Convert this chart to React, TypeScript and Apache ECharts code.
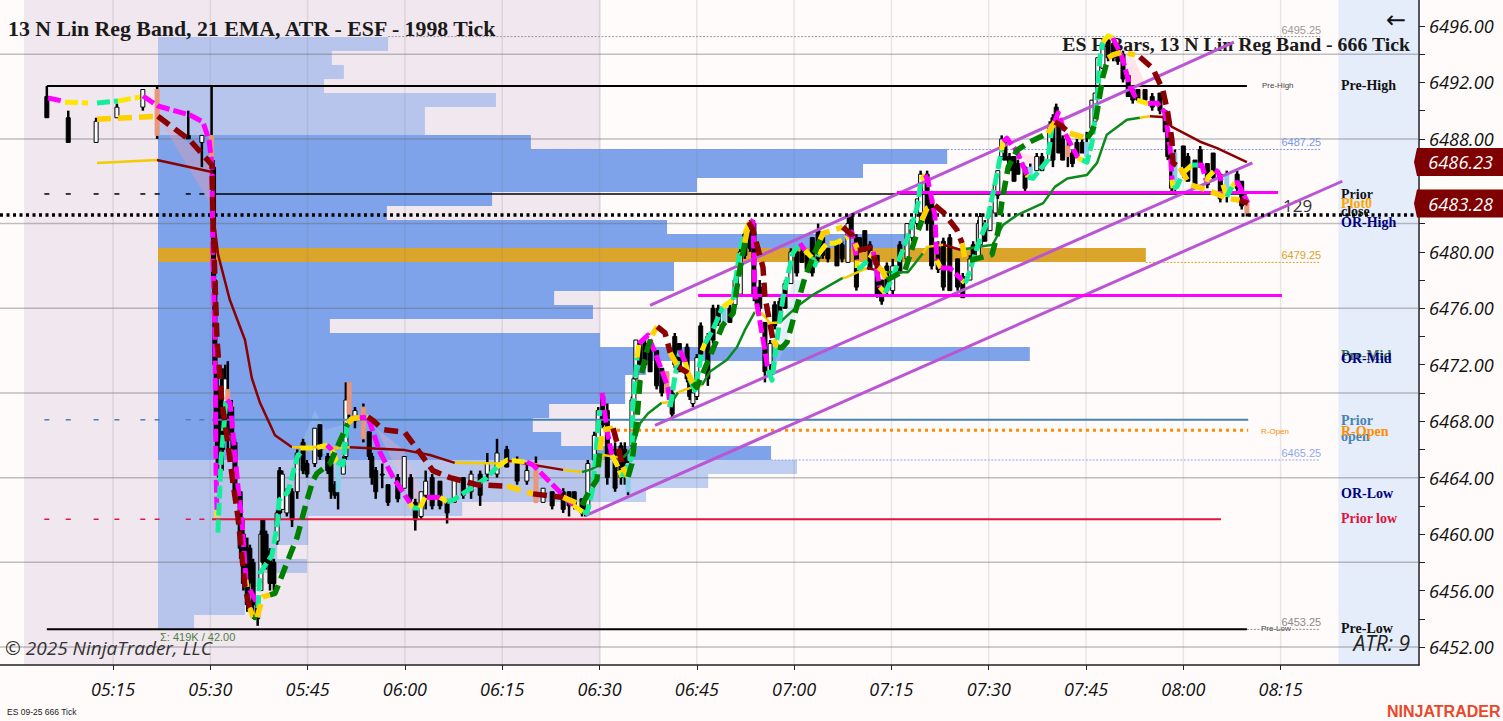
import React, { useEffect, useRef } from "react";
import * as echarts from "echarts";

// time axis: minutes after 05:00
const timeTicks = [15, 30, 45, 60, 75, 90, 105, 120, 135, 150, 165, 180, 195];
const priceLabels = [6452, 6456, 6460, 6464, 6468, 6472, 6476, 6480, 6488, 6492, 6496];
const priceTicks = [6452, 6454, 6456, 6458, 6460, 6462, 6464, 6466, 6468, 6470, 6472, 6474, 6476, 6478, 6480, 6482, 6484, 6486, 6488, 6490, 6492, 6494, 6496];
const gridPrices = [6452, 6458, 6464, 6470, 6476, 6482, 6488, 6494];

// t, open, close, low, high, flag (s = salmon, b = blue)
const candles: any[][] = [
[4.8,6491,6489.5,6489.5,6491.75],[8.1,6489.5,6487.75,6487.75,6490],[12.4,6487.75,6489.25,6487.75,6489.5],[15.6,6489.5,6490.25,6489.5,6490.5],
[19.6,6490.25,6491.5,6490,6491.5],[21.8,6491.5,6488.25,6488,6491.75,"s"],[26.6,6488.25,6488,6488,6490],[28.7,6487.75,6488.25,6486,6488.25],
[30.2,6488.25,6486,6485.5,6491.75,"s"],[30.5,6486,6478,6477.5,6486.5],[30.7,6478,6472,6471.5,6478.5],[30.9,6472,6467,6466,6472.5],
[31.2,6470,6465,6464,6470.5],[31.9,6471,6466,6464.5,6471.75],[32.3,6468,6471,6466.75,6472],[32.7,6470.25,6469,6466,6472.25,"s"],
[33.3,6469,6467,6466,6469.5],[33.8,6466.5,6463,6462.5,6466.75],[34.6,6463,6459,6458.25,6463],[35.1,6460,6456.5,6456,6461],
[35.7,6459,6455,6454.5,6459.75],[36.1,6459,6456.75,6456.5,6459.25],[36.6,6458,6455,6454,6458.25],[37.3,6455,6454,6453.5,6455.5],
[37.8,6456,6460,6456,6460.25],[38.1,6461,6458,6457.75,6461],[38.6,6460,6457.75,6457.5,6460.25],[39.2,6458.75,6456.5,6456,6459],
[39.8,6458,6456.5,6456,6458.25],[40.3,6459.5,6461.5,6459.25,6461.75],[40.7,6464.5,6461.5,6461,6464.75],[41.1,6461.75,6464.25,6461.75,6464.5],
[41.8,6461.5,6463,6461.25,6463.25],[42.6,6463,6461,6460.5,6463.25],[43.4,6463,6465.75,6462.5,6466],[44.3,6466.5,6464.5,6464.25,6466.75],
[44.9,6465,6464.25,6464,6465.25],[46.1,6465,6467.5,6464.75,6467.5],[46.9,6467.75,6465.5,6465.25,6467.75],[48.1,6465.5,6464.5,6464.25,6465.75],
[48.6,6465,6463,6462.5,6465.25],[49.2,6463.5,6462.75,6462.5,6463.75],[49.7,6465,6463,6461.75,6465.25,"b"],[50.5,6464.25,6465.25,6464.25,6465.5],
[50.9,6465.5,6469.5,6465.25,6470.75],[51.4,6470.75,6468.5,6468.25,6470.75,"s"],[52.3,6468,6468.75,6467.5,6469],[53.6,6469,6466.75,6466.5,6469.25,"s"],
[54.5,6467.25,6465.5,6465.25,6467.25],[54.9,6465.5,6464,6463.5,6465.75],[55.5,6464.5,6463,6462.5,6464.75],[56.5,6464.25,6464.25,6463.25,6465],
[57.4,6463.5,6462.25,6462,6463.5],[58.9,6464,6462.5,6462.25,6464.25],[59.9,6463.25,6465.5,6463.25,6465.5],[60.9,6464,6462.5,6462.25,6464.25],
[61.6,6462.25,6461,6460.25,6462.5],[62.5,6461.25,6463,6461,6463],[63.2,6462.75,6463.75,6461.75,6464.5],[64.2,6464,6462,6461.75,6464.25],
[65.4,6463.75,6462,6461.75,6463.75],[66.5,6462.25,6461.5,6460.75,6462.5],[67.6,6462.25,6464,6462.25,6464],[69,6464,6462.75,6462.5,6464],
[70.2,6463,6464.25,6462.5,6464.5],[71.6,6464.25,6462.75,6462,6464.5],[72.7,6464.25,6465,6463.75,6465.75],[74.2,6464.25,6465.75,6464,6466.75],
[75.7,6466,6464.75,6464.75,6466.25],[77.3,6465.25,6463.75,6463.5,6465.5],[78.8,6463.75,6464.5,6463.5,6465],[80.2,6465,6462.25,6462.25,6465.5,"s"],
[81.3,6462.25,6463.25,6462.25,6463.25],[82.7,6463,6462,6461.75,6463],[84.4,6463,6461.75,6461.5,6463.25],[85.3,6463,6462,6461.25,6463],
[86.1,6463,6462,6461.75,6463],[87.3,6462.5,6461.5,6461.25,6462.5],[87.8,6462,6461.5,6461.25,6462],[88.2,6461.75,6465,6461.5,6465.25],
[89.2,6465.25,6467,6465,6467.25],[89.8,6466,6468.75,6466,6469],[90.5,6469.75,6467.75,6467.5,6470],[91.2,6468.75,6464,6463.5,6469.25],
[92.4,6466,6463.25,6463,6466.5],[93.3,6466.25,6464,6463.5,6466.5],[93.9,6466,6464,6463.5,6466.5],[94.4,6465,6463,6462.75,6465.25,"b"],
[95,6466.25,6469.5,6466.25,6469.75],[95.3,6469.5,6471,6469.5,6471.25],[95.6,6471,6473.75,6471,6473.75],[96.2,6473.5,6472,6472,6473.5],
[97,6473.5,6472,6471.75,6473.75],[97.8,6473.25,6471.5,6471.5,6473.25],[98.8,6473,6470.5,6470.25,6473],[99.6,6471.75,6470,6469.75,6471.75],
[100.4,6471.5,6470,6470,6471.5,"s"],[101.2,6470,6468.5,6468.25,6470.25],[101.6,6474,6472,6471.75,6474.25],[102.3,6473.5,6471.5,6471.5,6473.5],
[103.5,6473.25,6471,6470.75,6473.5],[103.9,6471,6469.75,6469.5,6471],[104.4,6469.25,6470,6469,6470],[105,6469.75,6472.5,6469.5,6472.75],
[105.6,6474.75,6472.75,6472.5,6475],[106.7,6474,6471,6470.5,6474.25],[107.5,6476,6473.75,6473.5,6476.25],[108.3,6476,6475,6474.75,6476.25],
[109.2,6475,6476,6475,6476,"b"],[110.1,6476,6475,6475,6476.25],[110.9,6476.25,6478,6476.25,6478.25],[111.7,6477,6480,6477,6480.25],
[112.4,6481.25,6479.75,6479.5,6481.5],[113.2,6482,6480.25,6480,6482.25],[113.8,6482,6477,6476.5,6482.25],[114.3,6477,6476.25,6476,6477.25],
[114.7,6477.5,6476,6475.75,6478],[115.5,6475,6471.5,6470.75,6475],[116.3,6472,6473.5,6471.25,6473.75],[117,6476.25,6474.75,6474.5,6476.5],
[117.8,6476.5,6475,6475,6476.75],[118.6,6477.75,6476,6476,6478],[119.5,6477.75,6480,6477.75,6480.25],[120.4,6480,6478.5,6478.25,6480.25],
[121.2,6480,6479.25,6479.25,6480.25],[122,6479.75,6478.75,6478.75,6479.75],[122.8,6481,6478.5,6478.25,6481],[123.7,6481.5,6479.5,6479.25,6482],
[124.4,6481,6479.75,6479.5,6481],[125.2,6480.25,6479.5,6479.25,6480.25],[126.6,6480.5,6479,6479,6480.75],[127.4,6480.5,6479.5,6479.25,6480.75],
[128.3,6479.25,6482,6479.25,6482.5],[128.8,6482.5,6481,6481,6482.5],[129.6,6481,6477.5,6477.25,6481.25],[130.1,6481,6480,6480,6481],
[130.9,6481.5,6480.25,6480,6481.5],[131.7,6480.5,6478.75,6478.75,6480.75],[132.8,6479.75,6477,6476.75,6479.75],[133.5,6478,6476.5,6476.25,6478],
[134.3,6479,6477.25,6477,6479.25],[135.2,6477.25,6479,6477,6479.5],[136.3,6480.5,6478.5,6478.5,6480.75],[137.4,6479.5,6482,6479.25,6482],
[138.2,6481,6482.25,6480.75,6482.25],[139,6482,6483.75,6481.75,6483.75],[139.5,6482.75,6485.5,6482.5,6485.75],[140.5,6485.5,6482,6481.5,6485.75],
[141.2,6483.75,6479,6478.75,6484],[142.2,6480.5,6478.75,6478.5,6480.75],[143,6480.75,6477.5,6477.25,6481],[144,6481,6477.25,6477.25,6481.25],
[145.2,6479.5,6477.5,6477.25,6479.5],[146,6478.25,6476.75,6476.75,6478.5],[147.1,6478,6479.5,6478,6479.75],[147.6,6480.5,6479.5,6479.5,6480.75],
[148.4,6479.5,6482,6479.5,6482.25],[148.7,6480.5,6482.5,6480.5,6482.75],[149.4,6482,6480.75,6480.75,6482.25],[150.2,6481.5,6483,6481.5,6483.25],
[151,6482.75,6484.75,6482.75,6485],[151.4,6484,6485.75,6483.75,6485.75],[152,6486.75,6488,6486.5,6488.25],[152.5,6487.75,6486.5,6486.5,6488],
[153.2,6486.75,6485.75,6485.75,6487],[153.9,6486.75,6485,6485,6486.75],[154.5,6486.25,6485.5,6485.5,6486.5],[155.6,6486,6484.5,6484.25,6486],
[156.4,6485.25,6486,6485.25,6486.25,"b"],[157.4,6485.75,6486.75,6485.75,6487],[158.2,6486.75,6485.75,6485.75,6487],[159.4,6486.5,6489,6486.5,6489.25],
[159.9,6489.5,6486.5,6486,6489.75],[160.4,6490.25,6489.25,6489,6490.5],[160.8,6489,6487,6487,6489.25],[161.4,6488,6486.5,6486.5,6488.25],
[162.2,6487.5,6486.75,6486,6488,"s"],[162.9,6487,6486.25,6486,6487.25],[163.6,6487.75,6486.75,6486.75,6488],[164.4,6487.75,6487,6487,6488],
[165.1,6486.75,6487.75,6486.75,6488.5,"b"],[165.9,6488.75,6490.75,6488.5,6490.75],[166.4,6489.25,6491.25,6489,6491.25],[166.8,6491.25,6493.75,6491.25,6493.75],
[167.6,6493,6494.75,6493,6494.75],[168.4,6495,6493.75,6493.5,6495.25],[169.2,6494.75,6493.75,6493.5,6494.75],[169.9,6494.5,6493.5,6493.25,6494.5],
[170.7,6494,6492.25,6492,6494.25],[171.5,6492.5,6491,6491,6492.5],[172.2,6491.5,6490.75,6490.5,6491.75],[173,6491.5,6490.75,6490.75,6491.5],
[174.1,6491.5,6490.75,6490.5,6491.5],[175.2,6491,6490.25,6490,6491.25],[176.4,6491.25,6490,6489.75,6491.25],[177.2,6490,6488.5,6488.5,6490],
[177.6,6488.5,6486.75,6486.5,6488.5],[178.2,6487,6484.5,6484.25,6487],[178.7,6484.75,6487,6484.25,6487.25,"b"],[180,6487.5,6485.5,6485.25,6487.5],
[180.7,6486.75,6485,6485,6487],[181.8,6486.5,6484.75,6484.5,6486.5],[182.6,6487.25,6486,6486,6487.5],[183.7,6486.25,6484.75,6484.5,6486.25],
[184.6,6487,6485.25,6485,6487],[185.7,6485.5,6483.75,6483.5,6485.5],[186.7,6484,6485.5,6483.5,6485.75,"b"],[188.3,6485.5,6484.5,6484.25,6485.75],
[189,6485,6483.25,6483,6485],[189.8,6483.5,6482.75,6482.5,6483.75,"s"],
];

// colour key, then t, price pairs
const fastBand: any[][] = [
["m",4.98,6490.9,7.14,6490.69],["y",7.6,6490.6,11.15,6490.55],["g",12.53,6490.55,15.77,6490.69],["y",15.77,6490.69,19.16,6490.97],
["m",19.62,6491.04,21.92,6490.33,26.87,6489.69,28.87,6489.2,29.8,6487.92,30.26,6486.15,30.41,6479.42,30.72,6473.75,30.88,6464.54,31.03,6461.7],
["y",31.03,6461.7,31.03,6461.2],["g",31.18,6460.1,31.65,6465.25,32.42,6469.5],
["m",32.57,6469.5,33.04,6469.3,34.27,6463.35,34.9,6460.8,35.5,6456.75],["y",35.5,6456.75,35.65,6456.25],["m",36.1,6456.04,37.2,6455.12],
["g",37.35,6454.76,37.66,6457.24,39.5,6458.5,40.43,6461,40.6,6462.4,41.97,6463,43.4,6465.46,43.86,6465.74],
["y",43.86,6466.1,46.14,6466.1,47.99,6466.3],["m",47.99,6466.3,48.76,6465.96],["y",48.76,6465.96,49.53,6465.1],
["g",49.53,6465.1,50.46,6464.9,51.07,6467.6,51.5,6468.1],["y",51.5,6468.1,52,6468.2],
["m",52,6468.2,54.3,6468.3,56.16,6465.8,58.2,6464,60.8,6462.2],["y",60.8,6462.2,61.24,6461.85],["g",61.24,6461.85,62.3,6461.85],
["y",62.3,6461.85,63.1,6462.6],["m",63.4,6462.6,65.4,6462.6],["y",65.4,6462.6,66.5,6462.3],
["g",66.5,6462.3,67.4,6462.4,72.65,6464,74.2,6464.75],["y",74.2,6464.75,75.75,6465.25,78.8,6465.1],
["m",78.8,6465.1,79.75,6464.9,85.9,6462.06],["y",85.9,6462.06,87.45,6461.57],
["g",87.45,6461.57,88.07,6461.5,89,6463.3,89.6,6466.67,90.07,6468.8],["m",90.38,6470,91.15,6467.4,91.9,6465.6],
["y",91.9,6465.6,92.7,6464.9,93.46,6464.05],["g",93.46,6464.05,95,6465.46,95.15,6469,95.8,6472.5],["y",95.8,6472.5,96.08,6473.5],
["m",96.08,6473.5,97.47,6474.1,98.86,6472.5,100.56,6470.4,100.9,6469],["g",100.9,6469,101.6,6471.1,102.4,6473],["m",102.4,6473,103.2,6472.2],
["y",103.2,6472.2,103.97,6470.9],["g",103.97,6470.9,104.7,6470.2,105.8,6473],["y",105.8,6473,106.25,6473.5],
["g",106.25,6473.5,107.5,6474.5,109,6476.1],["y",109,6476.1,110.57,6476.6],["g",110.57,6476.6,111.65,6480.1,112.4,6481.3],["y",112.4,6481.3,113.2,6482.25],
["m",113.2,6482.25,113.66,6482.1,113.96,6477.1,115.5,6473,115.97,6471.6],["g",115.97,6471.6,116.6,6470.9,117.35,6473.75,118.3,6476.8,119.8,6479.9,120.9,6480.6],
["m",120.9,6480.6,121.67,6480.1],["y",121.67,6480.1,122.75,6479.6],["g",122.75,6479.6,123.2,6479.06,123.7,6479.8],["y",123.7,6479.8,125.06,6480.6,126.3,6480.6,128.3,6481.05],
["m",128.3,6481.05,128.9,6481.4,129.7,6479.4],["y",129.7,6479.4,129.7,6478.85],["g",129.7,6478.85,130.2,6478.85,131.7,6479.56],["y",131.7,6479.56,132.2,6480],
["m",132.2,6480,132.8,6478.5,133.2,6477.5],["y",133.2,6477.5,134,6477.1],["g",134,6477.1,135.2,6478.2,136.3,6479.6,137.9,6481.5,139.1,6483.4,139.55,6485.1],
["y",139.55,6485.1,140.2,6485.45],["m",140.2,6485.45,140.6,6485.1,141.7,6482.6,142,6479.4],["y",142,6479.4,142.6,6478.85],["m",142.6,6478.85,144,6478.85,145.9,6478],
["y",145.9,6478,146.3,6477.8],["g",146.3,6477.8,146.6,6478,148.6,6480.85,149.7,6482.05,151,6484.9,152,6487.2],["y",152,6487.2,152.2,6487.8],
["m",152.2,6487.8,152.8,6488.05,154.35,6487.1,155.9,6485.45],["y",155.9,6485.45,156.05,6485.3],["g",156.05,6485.3,156.8,6485.2,159.1,6486.5,159.75,6488.85],
["y",159.75,6488.85,160.05,6489.1],["m",160.05,6489.1,160.7,6489.85,161.75,6488.4,163.75,6486.65],["y",163.75,6486.65,164.4,6486.5],
["g",164.4,6486.5,165.15,6486.35,165.9,6487.7,166.7,6490.75,167.15,6493.8,167.6,6494.85],["y",167.6,6494.85,168.4,6495.3,169.15,6495.15],
["m",169.15,6495.15,170.55,6493.8,171.8,6491.7,172.85,6490.75],["y",172.85,6490.75,174.55,6490.5],
["m",174.55,6490.5,175.95,6490.55,177.2,6489.85,177.5,6488.85,177.95,6487.45,178.25,6485.1],["y",178.25,6485.1,178.4,6484.5],
["g",178.4,6484.5,179,6484.6,179.95,6485.6],["y",179.95,6485.6,181.3,6486.15],["g",181.3,6486.15,182.25,6486.15],["m",182.25,6486.15,182.85,6486.15,183.6,6484.95],
["y",183.6,6484.95,183.8,6485.3,184.9,6485.8],["m",184.9,6485.8,185.35,6485.65,186.1,6484.75],["y",186.1,6484.75,186.7,6483.9],["g",186.7,6483.9,187.5,6484.6],
["y",187.5,6484.6,187.95,6484.9],["m",187.95,6484.9,188.4,6484.9,189.95,6483.45],
];

const slowBand: any[][] = [
["y",12.53,6489.4,21.92,6489.6],
["r",21.92,6489.6,26.87,6487.9,30.26,6486.15,30.41,6482.25,31.03,6473.75,31.8,6469.3,32.7,6466.45,33.5,6463.6,34.27,6461.2,35.35,6456.25,35.8,6455.3,36.1,6454.75],
["y",36.1,6454.75,36.6,6454.1],["g",36.6,6454.1,37.2,6454.1],["y",37.2,6454.1,38.1,6455.55,39.2,6455.7],
["g",39.2,6455.7,39.97,6455.8,41.2,6457.25,43.4,6459.8,44.9,6462.4,45.83,6463.8,46.45,6464.3,48.45,6465,51.2,6467.85],
["y",51.2,6467.85,52,6468.2,54.3,6468.3],["r",54.3,6468.3,55.1,6468.05,56.6,6467.4,60,6467.2,62.8,6465.45,64.3,6464.5,66.95,6464,71.1,6463.5,75.75,6463.4],
["y",75.75,6463.4,79.75,6462.85],["r",79.75,6462.85,84.4,6462.6],["y",84.4,6462.6,87.3,6462.05],["g",87.3,6462.05,88.5,6463.1,89.6,6463.85,90.07,6465.95],
["y",90.07,6465.95,90.5,6467.4,92.1,6467.5],["r",92.1,6467.5,92.85,6466.2,93.6,6464.75],["y",93.6,6464.75,94.4,6464.05],
["g",94.4,6464.05,95,6465,95.8,6468.3,96.25,6470.9,97.3,6473,98.1,6474.1],["y",98.1,6474.1,98.9,6474.7],["r",98.9,6474.7,100.1,6474.25,100.9,6472.85],
["y",100.9,6472.85,102.1,6471.85],["r",102.1,6471.85,103.65,6471.4],["y",103.65,6471.4,104.4,6470.7],
["g",104.4,6470.7,105,6470.4,107,6472.55,109,6474.8,110.6,6475.65,111.35,6478,112.4,6480.65],["y",112.4,6480.65,113,6482.1],
["r",113,6482.1,113.66,6481.55,115.2,6478.9,115.5,6476.8,115.97,6475.65,116.75,6473.75],["y",116.75,6473.75,117.5,6473.25],
["g",117.5,6473.25,118.1,6473.2,118.9,6473.6,120.4,6476.1,121.67,6478.2,122.9,6479.6,124,6480.85],["y",124,6480.85,124.45,6481.3,127.5,6481.75],
["r",127.5,6481.75,128.9,6481.2,129.4,6480.6],["y",129.4,6480.6,129.85,6480.1],["r",129.85,6480.1,131.7,6480.3,132.95,6478.9],["y",132.95,6478.9,133.55,6478.7,134.3,6478],
["g",134.3,6478,137.1,6478.7,138.6,6480.85,139.7,6482.25],["y",139.7,6482.25,140.5,6483.1,141.7,6483.3],["r",141.7,6483.3,143,6482.8,145.1,6481.55,145.9,6480.6],
["y",145.9,6480.6,146.3,6479.6,147.1,6479.4],["g",147.1,6479.4,150.5,6479.8,151.4,6481.35,152,6483.45,153,6486,154.35,6487.2,156.4,6487.8,159.1,6488.4],
["y",159.1,6488.4,160.2,6489.2],["r",160.2,6489.2,161,6489,162.5,6488.4],["y",162.5,6488.4,165.15,6488.05],
["g",165.15,6488.05,165.9,6488.5,166.4,6489.1,167.6,6492.4,168.4,6493.75],["y",168.4,6493.75,169.15,6493.95,170.55,6494.15,172.55,6493.95],
["r",173.3,6493.8,175.3,6493,176.85,6491.45,177.6,6489.85,178.25,6487.9,178.4,6486.3,179.5,6485.95],
["y",179.5,6485.95,181,6484.75,183.6,6484.4,186.7,6483.8,188.7,6483.65],["r",188.7,6483.65,189.95,6483.45],
];

const ema21: any[][] = [
["y",12.53,6486.3,21.78,6486.5],
["r",21.78,6486.5,30.26,6485.65,30.4,6485.25,30.55,6482.25,31.2,6479.8,33,6476.6,35.35,6473.75,36.4,6471.05,37.66,6469.3,39.97,6467,42.6,6466.15],
["y",42.6,6466.15,46.14,6466.15,49.53,6466.1,51.5,6466.15],["r",51.5,6466.15,60,6465.95,63.85,6465.6,67.7,6465.05],["y",67.7,6465.05,74.65,6465,75.75,6465.2],
["r",75.75,6465.2,84.4,6464.55],["y",84.4,6464.55,87.3,6464.4],["g",87.3,6464.4,88.5,6464.55,90.07,6464.9],["y",90.07,6464.9,90.5,6465.6,93.6,6465.4],
["g",93.6,6465.4,95.15,6466.15,96.25,6467.85,97.47,6468.55,99.6,6469.3],["y",99.6,6469.3,101.2,6469.35],["g",101.2,6469.35,102.1,6470.05],
["y",102.1,6470.05,104.25,6470.4,105.8,6470.55],["g",105.8,6470.55,107,6471.5,109.65,6472.35,111.2,6473.25,112.4,6474.45,113.96,6475.75],
["y",113.96,6475.75,115,6475.65,116.3,6474.95,117.8,6475],["g",117.8,6475,120.4,6476.1,122.9,6476.95,127.5,6478.15],["y",127.5,6478.15,128.1,6478.2,131.2,6478.85],
["r",131.2,6478.85,133.25,6478.65],["y",133.25,6478.65,134.3,6478.55],["g",134.3,6478.55,137.55,6478.55,139.85,6479.9],["y",139.85,6479.9,140.5,6480.35,143,6480.5],
["r",143,6480.5,145.6,6480.15],["g",145.6,6480.15,150.6,6480.5,152.2,6481.9,154.35,6482.6,158.4,6483.45,160.2,6484.6,162.1,6485.2,165.15,6485.45,166.7,6486.3,168.2,6488.3,171.3,6489.35,173.3,6489.5],
["y",173.3,6489.5,174.85,6489.6],["r",174.85,6489.6,176.85,6489.55,178.25,6488.85,182.6,6487.8,185.2,6487.35,189.8,6486.35],
];

// regression channel lines: t, price, t, price
const channelLines = [
  [97.8, 6476.2, 187.8, 6494.85],
  [98.55, 6467.7, 190.65, 6486.3],
  [87.8, 6461.3, 204.5, 6485],
];

// volume profile: thousands of contracts per 1-point row, top row first, from 6495.25 down
const profileVolumes = [5.93,4.48,4.79,4.28,8.71,6.88,6.88,9.61,20.34,18.17,13.89,8.61,5.9,13.12,19.25,25.46,13.3,13.3,10.21,11.21,4.43,11.39,22.47,12.58,12.04,12.04,10.08,9.66,10.39,15.8,16.47,14.18,12.58,7.84,3.87,3.87,3.07,3.84,2.63,2.37,2.24,0.93];
const profileTop = 6495.25;
const valueAreaRows = [7, 29];
const pocRow = 15;

// profile price levels: first t, price
const profileLevels: [number, number, string][] = [
  [57.4, 6495.25, "#9a9a9a"],
  [79.4, 6487.25, "#7a9ae8"],
  [174.2, 6479.25, "#d9a22a"],
  [116.4, 6465.25, "#8fa8ec"],
  [189.8, 6453.25, "#8a8a8a"],
];

const preHigh = 6491.75, preLow = 6453.25, priorClose = 6484.1, priorOpen = 6468.1, priorLow = 6461.05, rOpen = 6467.35, dotted = 6482.6;
const supportLevel = 6476.9, resistanceLevel = 6484.2;
const priceTags = [6486.23, 6483.28];

const sessions: [number, number, string][] = [
  [1.28, 90.2, "#F1E7EF"],
  [203.9, 216.33, "#E5EDFA"],
];

const clouds: any[] = [
  ["#ff9aa8", 21.9,6489.6, 30.26,6486.2, 30.26,6483.2],
  ["#ffb6c1", 55.55,6467.5, 59.85,6465.95, 62.3,6463.1, 68.5,6462.2, 61.55,6462.05],
  ["#a8d4f5", 43.85,6466.2, 46.15,6468.8, 47.7,6467.4, 50.45,6467.75, 50.75,6465.25],
  ["#a8d4f5", 116.75,6471.4, 119.8,6478, 121.2,6478, 118.9,6473.55],
  ["#a8d4f5", 149.4,6481.9, 151.75,6486.5, 151.75,6483, 147.9,6479.4],
  ["#ffb6c1", 169.45,6494.3, 172.55,6493.6, 174.55,6491.45, 172.55,6490.75],
  ["#ffb6c1", 154.05,6487.2, 158.2,6486.5, 157.15,6485.8],
];

const T_MIN = -2.42, T_MAX = 216.33, P_MIN = 6450.725, P_MAX = 6497.842;
const VOL_MAX = 32.5;

const fastColors: any = { m: "#FF00FF", y: "#FFE600", g: "#14EE9B" };
const slowColors: any = { r: "#8B0000", y: "#FFD000", g: "#008000" };
const emaColors: any = { r: "#8B0000", y: "#F0CC00", g: "#0B8A1E" };

const clock = (t: number) => {
  const m = Math.round(300 + t);
  return `${String(Math.floor(m / 60)).padStart(2, "0")}:${String(m % 60).padStart(2, "0")}`;
};

const pairs = (flat: any[]) => {
  const out: number[][] = [];
  for (let i = 0; i + 1 < flat.length; i += 2) out.push([flat[i], flat[i + 1]]);
  return out;
};

const runSeries = (name: string, runs: any[][], colors: any, width: number, dash: any, z: number) =>
  runs.map((r) => ({
    name,
    type: "line",
    z,
    silent: true,
    symbol: "none",
    smooth: false,
    clip: false,
    data: pairs(r.slice(1)),
    lineStyle: { color: colors[r[0]], width, type: dash, cap: "butt", join: "round" },
  }));

const level = (name: string, t0: number, t1: number, p: number, color: string, width: number, type: any, z = 5) => ({
  name,
  type: "line",
  z,
  silent: true,
  symbol: "none",
  data: [[t0, p], [t1, p]],
  lineStyle: { color, width, type },
});

const leftDashTimes = candles.slice(0, 8).map((c) => c[0]);
const dashes = (name: string, p: number, color: string) => ({
  name,
  type: "custom",
  z: 5,
  silent: true,
  data: leftDashTimes.map((t) => [t, p]),
  renderItem: (_: any, api: any) => {
    const c = api.coord([api.value(0), api.value(1)]);
    return { type: "line", shape: { x1: c[0] - 2.5, y1: c[1], x2: c[0] + 2.5, y2: c[1] }, style: { stroke: color, lineWidth: 1.5 } };
  },
});

const serif = '"Liberation Serif", serif';
const sans = '"Open Sans", sans-serif';
const label = (text: string, x: number, y: number, fill: string, font: string, extra: any = {}, z = 4) => ({
  type: "text",
  x,
  y,
  z,
  silent: true,
  style: { text, fill, font, align: "left", verticalAlign: "middle", textAlign: "left", textVerticalAlign: "middle", ...extra },
});

const column = `bold 14px ${serif}`;

const option: any = {
  animation: false,
  backgroundColor: "#FFFBFA",
  grid: [
    { left: 0, top: 0, width: 1419, height: 665 },
    { left: 158, top: 0, width: 1261, height: 665 },
  ],
  xAxis: [
    {
      type: "value",
      gridIndex: 0,
      min: T_MIN,
      max: T_MAX,
      splitLine: { show: false },
      axisLine: { show: true, lineStyle: { color: "#222", width: 1.5 } },
      axisTick: { show: true, length: 5, customValues: timeTicks, lineStyle: { color: "#222", width: 1 } },
      axisLabel: { customValues: timeTicks, formatter: (v: number) => clock(v), fontFamily: "Open Sans", fontStyle: "italic", fontSize: 18, color: "#111", margin: 15 },
    },
    { type: "value", gridIndex: 1, min: 0, max: VOL_MAX, show: false },
  ],
  yAxis: [
    {
      type: "value",
      gridIndex: 0,
      position: "right",
      min: P_MIN,
      max: P_MAX,
      splitLine: { show: false },
      axisLine: { show: true, onZero: false, lineStyle: { color: "#222", width: 1.5 } },
      axisTick: { show: true, length: 6, customValues: priceTicks, lineStyle: { color: "#222", width: 1 } },
      axisLabel: { customValues: priceLabels, formatter: (v: number) => v.toFixed(2), fontFamily: "Open Sans", fontStyle: "italic", fontSize: 18.2, color: "#111", margin: 10 },
    },
    { type: "value", gridIndex: 1, min: P_MIN, max: P_MAX, show: false },
  ],
  graphic: {
    elements: [
      label("13 N Lin Reg Band, 21 EMA, ATR - ESF - 1998 Tick", 8, 29, "#1a1a1a", `bold 21.8px ${serif}`),
      label("ES F-Bars, 13 N Lin Reg Band - 666 Tick", 1410, 44, "#1a1a1a", `bold 19.8px ${serif}`, { align: "right", textAlign: "right" }),
      label("←", 1396, 20, "#111", '24px "DejaVu Sans"', { align: "center", textAlign: "center" }, 20),
      label("129", 1283, 205, "#333", `17px ${sans}`),
      label("© 2025 NinjaTrader, LLC", 5, 648, "#333", `italic 19px ${sans}`, {}, 20),
      label("ATR: 9", 1410, 643, "#222", `italic 21px ${sans}`, { align: "right", textAlign: "right" }, 20),
      label("Σ: 419K / 42.00", 160, 637, "#4f7f45", '11px "Liberation Sans"', {}, 20),
      label("ES 09-25 666 Tick", 7, 712, "#222", '8.5px "Liberation Sans"'),
      label("NINJATRADER", 1387, 711, "#E8482A", 'bold 16px "Liberation Sans"'),
      label("Pre-High", 1262, 85, "#444", '8px "Liberation Sans"'),
      label("R-Open", 1261, 431, "#FF8C00", '8px "Liberation Sans"'),
      label("Pre-Low", 1261, 628, "#444", '8px "Liberation Sans"'),
      label("Pre-High", 1341, 85, "#111", column),
      label("Prior", 1341, 194, "#111", column),
      label("close", 1341, 211, "#111", column),
      label("Plot0", 1341, 203, "#FFA500", column),
      label("OR-High", 1341, 222, "#000080", column),
      label("Pre-Mid", 1341, 355, "#3f6f4f", column),
      label("OR-Mid", 1341, 358, "#000080", column),
      label("Prior", 1341, 420, "#4682B4", column),
      label("open", 1341, 436, "#4682B4", column),
      label("R-Open", 1341, 431, "#FF8C00", column),
      label("OR-Low", 1341, 493, "#000080", column),
      label("Prior low", 1341, 518, "#DC143C", column),
      label("Pre-Low", 1341, 628, "#111", column),
    ],
  },
  series: [
    {
      name: "sessions",
      type: "custom",
      z: 0,
      silent: true,
      data: sessions.map((s) => [s[0], s[1]]),
      renderItem: (params: any, api: any) => {
        const a = api.coord([api.value(0), P_MAX]);
        const b = api.coord([api.value(1), P_MIN]);
        return { type: "rect", shape: { x: a[0], y: a[1], width: b[0] - a[0], height: b[1] - a[1] }, style: { fill: sessions[params.dataIndex][2] } };
      },
    },
    {
      name: "Volume profile",
      type: "custom",
      xAxisIndex: 1,
      yAxisIndex: 1,
      z: 1,
      silent: true,
      data: profileVolumes.map((v, i) => [v, i]),
      renderItem: (params: any, api: any) => {
        const i = params.dataIndex;
        const a = api.coord([0, profileTop - i]);
        const b = api.coord([api.value(0), profileTop - i - 1]);
        const inVA = i >= valueAreaRows[0] && i <= valueAreaRows[1];
        const fill = i === pocRow ? "#DAA52A" : inVA ? "#7EA3EA" : "rgba(126,163,234,0.5)";
        const top = Math.round(a[1]);
        const bottom = Math.round(b[1]);
        return { type: "rect", shape: { x: a[0], y: top, width: b[0] - a[0], height: bottom - top }, style: { fill } };
      },
    },
    {
      name: "priceGrid",
      type: "custom",
      z: 2,
      silent: true,
      data: gridPrices.map((p) => [T_MIN, p]),
      renderItem: (_: any, api: any) => {
        const a = api.coord([T_MIN, api.value(1)]);
        const b = api.coord([T_MAX, api.value(1)]);
        return { type: "line", shape: { x1: a[0], y1: a[1], x2: b[0], y2: b[1] }, style: { stroke: "rgba(105,105,115,0.42)", lineWidth: 1.5 } };
      },
    },
    {
      name: "timeGrid",
      type: "custom",
      z: 2,
      silent: true,
      data: timeTicks.map((t) => [t, P_MAX]),
      renderItem: (_: any, api: any) => {
        const a = api.coord([api.value(0), P_MAX]);
        const b = api.coord([api.value(0), P_MIN]);
        return { type: "line", shape: { x1: a[0], y1: a[1], x2: b[0], y2: b[1] }, style: { stroke: "rgba(120,120,120,0.16)", lineWidth: 1.5 } };
      },
    },
    {
      name: "clouds",
      type: "custom",
      z: 3,
      silent: true,
      data: clouds.map((c) => [c[1], c[2]]),
      renderItem: (params: any, api: any) => {
        const c = clouds[params.dataIndex];
        return { type: "polygon", shape: { points: pairs(c.slice(1)).map((p) => api.coord(p)) }, style: { fill: c[0], opacity: 0.32 } };
      },
    },
    {
      name: "profileLevels",
      type: "custom",
      z: 4,
      silent: true,
      data: profileLevels.map((l) => [l[0], l[1]]),
      renderItem: (params: any, api: any) => {
        const color = profileLevels[params.dataIndex][2];
        const price = api.value(1);
        const a = api.coord([api.value(0), price]);
        const b = api.coord([201.1, price]);
        return {
          type: "group",
          children: [
            { type: "line", shape: { x1: a[0], y1: a[1], x2: b[0], y2: b[1] }, style: { stroke: color, lineWidth: 1, lineDash: [2, 1.5] } },
            { type: "text", x: b[0] + 1, y: b[1] - 7, style: { text: price.toFixed(2), fill: color, font: '11px "Liberation Sans"', align: "right", verticalAlign: "middle" } },
          ],
        };
      },
    },
    level("Pre-High", 4.8, 189.8, preHigh, "#000", 2, "solid"),
    level("Pre-Low", 4.8, 189.8, preLow, "#000", 2, "solid"),
    level("Prior close", 30.26, 189.8, priorClose, "#000", 1.5, "solid"),
    level("Prior open", 30.26, 190, priorOpen, "#4682B4", 2, "solid"),
    level("Prior low", 30.26, 185.8, priorLow, "#E0143C", 2, "solid"),
    level("R-Open", 92.7, 190, rOpen, "#FF8C00", 3, [3, 4]),
    dashes("Prior close left", priorClose, "#000"),
    dashes("Prior open left", priorOpen, "#4682B4"),
    dashes("Prior low left", priorLow, "#E0143C"),
    {
      name: "Candles",
      type: "custom",
      z: 5,
      silent: true,
      data: candles.map((c) => c.slice(0, 5)),
      renderItem: (params: any, api: any) => {
        const c = candles[params.dataIndex];
        const [t, o, cl, lo, hi, flag] = c;
        const h = api.coord([t, hi]);
        const l = api.coord([t, lo]);
        const top = api.coord([t, Math.max(o, cl)]);
        const bot = api.coord([t, Math.min(o, cl)]);
        const up = cl > o;
        const fill = flag === "s" ? "#E9967A" : flag === "b" ? "#87CEEB" : up ? "#fff" : "#000";
        return {
          type: "group",
          children: [
            { type: "line", shape: { x1: h[0], y1: h[1], x2: l[0], y2: l[1] }, style: { stroke: "#000", lineWidth: 2.5 } },
            { type: "rect", shape: { x: h[0] - 2, y: top[1], width: 4, height: Math.max(bot[1] - top[1], 1) }, style: { fill, stroke: flag ? fill : "#000", lineWidth: 1 } },
          ],
        };
      },
    },
    ...channelLines.map((l, i) => ({
      name: `Channel ${i + 1}`,
      type: "line",
      z: 6,
      silent: true,
      symbol: "none",
      clip: false,
      data: [[l[0], l[1]], [l[2], l[3]]],
      lineStyle: { color: "#BA55D3", width: 3 },
    })),
    level("Resistance", 135.85, 194.6, resistanceLevel, "#FF00FF", 3, "solid", 7),
    level("Support", 105.2, 195.2, supportLevel, "#FF00FF", 3, "solid", 7),
    level("Last close", T_MIN, T_MAX, dotted, "#000", 3.5, [3, 3.5], 7),
    ...runSeries("21 EMA", ema21, emaColors, 2.5, "solid", 8),
    ...runSeries("Lin Reg fast", fastBand, fastColors, 5, [13, 4], 9),
    ...runSeries("Lin Reg slow", slowBand, slowColors, 5.5, [14, 7], 10),
    {
      name: "Price tags",
      type: "custom",
      z: 12,
      silent: true,
      clip: false,
      data: priceTags.map((p) => [T_MAX, p]),
      renderItem: (_: any, api: any) => {
        const price = api.value(1);
        const c = api.coord([T_MAX, price]);
        const x0 = c[0] - 5, xb = c[0] - 2, y = c[1] - 2;
        return {
          type: "group",
          children: [
            { type: "polygon", shape: { points: [[x0, y], [xb, y - 14], [1503, y - 14], [1503, y + 14], [xb, y + 14]] }, style: { fill: "#7E0000" } },
            { type: "text", x: 1493, y, style: { text: price.toFixed(2), fill: "#fff", font: `italic 18.2px ${sans}`, align: "right", verticalAlign: "middle" } },
          ],
        };
      },
    },
  ],
};

export default function App() {
  const ref = useRef<HTMLDivElement>(null);
  useEffect(() => {
    const chart = echarts.init(ref.current as HTMLDivElement, undefined, { renderer: "svg", width: 1503, height: 721 });
    chart.setOption(option);
    return () => chart.dispose();
  }, []);
  return <div ref={ref} style={{ position: "fixed", left: 0, top: 0, width: 1503, height: 721 }} />;
}
